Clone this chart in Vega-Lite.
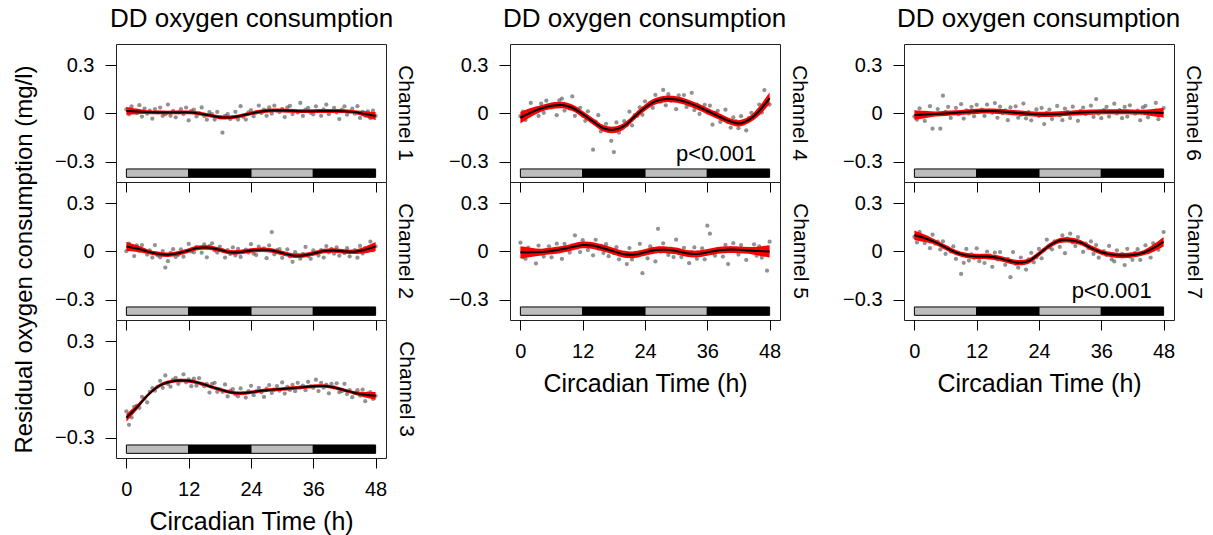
{
"$schema":"https://vega.github.io/schema/vega-lite/v6.json",
"background":"white",
"padding":{"left":12,"top":5,"right":0,"bottom":0},
"datasets":{
"ld":[{"t":0,"e":12,"p":"L"},{"t":12,"e":24,"p":"D"},{"t":24,"e":36,"p":"L"},{"t":36,"e":48,"p":"D"}],
"fit":[
{"c":1,"t":0,"v":0.015,"se":0.025},{"c":1,"t":2,"v":0.012,"se":0.018},{"c":1,"t":4,"v":0.008,"se":0.012},{"c":1,"t":6,"v":0.006,"se":0.012},{"c":1,"t":8,"v":0.005,"se":0.012},{"c":1,"t":10,"v":0.006,"se":0.012},{"c":1,"t":12,"v":0.006,"se":0.012},{"c":1,"t":14,"v":0,"se":0.012},{"c":1,"t":16,"v":-0.012,"se":0.012},{"c":1,"t":18,"v":-0.024,"se":0.012},{"c":1,"t":20,"v":-0.025,"se":0.012},{"c":1,"t":22,"v":-0.015,"se":0.012},{"c":1,"t":24,"v":0,"se":0.012},{"c":1,"t":26,"v":0.012,"se":0.012},{"c":1,"t":28,"v":0.018,"se":0.012},{"c":1,"t":30,"v":0.018,"se":0.012},{"c":1,"t":32,"v":0.016,"se":0.012},{"c":1,"t":34,"v":0.014,"se":0.012},{"c":1,"t":36,"v":0.014,"se":0.012},{"c":1,"t":38,"v":0.015,"se":0.012},{"c":1,"t":40,"v":0.015,"se":0.012},{"c":1,"t":42,"v":0.014,"se":0.012},{"c":1,"t":44,"v":0.008,"se":0.012},{"c":1,"t":46,"v":-0.004,"se":0.018},{"c":1,"t":48,"v":-0.016,"se":0.025},
{"c":2,"t":0,"v":0.031,"se":0.028},{"c":2,"t":2,"v":0.018,"se":0.021},{"c":2,"t":4,"v":0,"se":0.014},{"c":2,"t":6,"v":-0.015,"se":0.014},{"c":2,"t":8,"v":-0.021,"se":0.014},{"c":2,"t":10,"v":-0.012,"se":0.014},{"c":2,"t":12,"v":0.006,"se":0.014},{"c":2,"t":14,"v":0.022,"se":0.014},{"c":2,"t":16,"v":0.023,"se":0.014},{"c":2,"t":18,"v":0.01,"se":0.014},{"c":2,"t":20,"v":-0.006,"se":0.014},{"c":2,"t":22,"v":-0.004,"se":0.014},{"c":2,"t":24,"v":0.005,"se":0.014},{"c":2,"t":26,"v":0.01,"se":0.014},{"c":2,"t":28,"v":0.006,"se":0.014},{"c":2,"t":30,"v":-0.01,"se":0.014},{"c":2,"t":32,"v":-0.025,"se":0.014},{"c":2,"t":34,"v":-0.025,"se":0.014},{"c":2,"t":36,"v":-0.013,"se":0.014},{"c":2,"t":38,"v":0.002,"se":0.014},{"c":2,"t":40,"v":0.006,"se":0.014},{"c":2,"t":42,"v":0,"se":0.014},{"c":2,"t":44,"v":-0.002,"se":0.014},{"c":2,"t":46,"v":0.01,"se":0.021},{"c":2,"t":48,"v":0.031,"se":0.028},
{"c":3,"t":0,"v":-0.176,"se":0.024},{"c":3,"t":2,"v":-0.112,"se":0.017},{"c":3,"t":4,"v":-0.04,"se":0.011},{"c":3,"t":6,"v":0.016,"se":0.011},{"c":3,"t":8,"v":0.044,"se":0.011},{"c":3,"t":10,"v":0.055,"se":0.011},{"c":3,"t":12,"v":0.053,"se":0.011},{"c":3,"t":14,"v":0.04,"se":0.011},{"c":3,"t":16,"v":0.02,"se":0.011},{"c":3,"t":18,"v":0,"se":0.011},{"c":3,"t":20,"v":-0.018,"se":0.011},{"c":3,"t":22,"v":-0.024,"se":0.011},{"c":3,"t":24,"v":-0.018,"se":0.011},{"c":3,"t":26,"v":-0.008,"se":0.011},{"c":3,"t":28,"v":-0.002,"se":0.011},{"c":3,"t":30,"v":0.003,"se":0.011},{"c":3,"t":32,"v":0.008,"se":0.011},{"c":3,"t":34,"v":0.013,"se":0.011},{"c":3,"t":36,"v":0.02,"se":0.011},{"c":3,"t":38,"v":0.021,"se":0.011},{"c":3,"t":40,"v":0.012,"se":0.011},{"c":3,"t":42,"v":-0.005,"se":0.011},{"c":3,"t":44,"v":-0.022,"se":0.011},{"c":3,"t":46,"v":-0.033,"se":0.017},{"c":3,"t":48,"v":-0.04,"se":0.024},
{"c":4,"t":0,"v":-0.027,"se":0.036},{"c":4,"t":2,"v":0.005,"se":0.028},{"c":4,"t":4,"v":0.03,"se":0.02},{"c":4,"t":6,"v":0.047,"se":0.02},{"c":4,"t":8,"v":0.052,"se":0.02},{"c":4,"t":10,"v":0.035,"se":0.02},{"c":4,"t":12,"v":-0.005,"se":0.02},{"c":4,"t":14,"v":-0.05,"se":0.02},{"c":4,"t":16,"v":-0.092,"se":0.02},{"c":4,"t":18,"v":-0.102,"se":0.02},{"c":4,"t":20,"v":-0.078,"se":0.02},{"c":4,"t":22,"v":-0.02,"se":0.02},{"c":4,"t":24,"v":0.035,"se":0.02},{"c":4,"t":26,"v":0.075,"se":0.02},{"c":4,"t":28,"v":0.09,"se":0.02},{"c":4,"t":30,"v":0.086,"se":0.02},{"c":4,"t":32,"v":0.07,"se":0.02},{"c":4,"t":34,"v":0.045,"se":0.02},{"c":4,"t":36,"v":0.015,"se":0.02},{"c":4,"t":38,"v":-0.015,"se":0.02},{"c":4,"t":40,"v":-0.045,"se":0.02},{"c":4,"t":42,"v":-0.062,"se":0.02},{"c":4,"t":44,"v":-0.04,"se":0.02},{"c":4,"t":46,"v":0.015,"se":0.028},{"c":4,"t":48,"v":0.095,"se":0.036},
{"c":5,"t":0,"v":-0.006,"se":0.038},{"c":5,"t":2,"v":-0.006,"se":0.029},{"c":5,"t":4,"v":-0.004,"se":0.021},{"c":5,"t":6,"v":0.003,"se":0.021},{"c":5,"t":8,"v":0.013,"se":0.021},{"c":5,"t":10,"v":0.027,"se":0.021},{"c":5,"t":12,"v":0.04,"se":0.021},{"c":5,"t":14,"v":0.036,"se":0.021},{"c":5,"t":16,"v":0.02,"se":0.021},{"c":5,"t":18,"v":0,"se":0.021},{"c":5,"t":20,"v":-0.018,"se":0.021},{"c":5,"t":22,"v":-0.02,"se":0.021},{"c":5,"t":24,"v":-0.006,"se":0.021},{"c":5,"t":26,"v":0.008,"se":0.021},{"c":5,"t":28,"v":0.01,"se":0.021},{"c":5,"t":30,"v":0.003,"se":0.021},{"c":5,"t":32,"v":-0.012,"se":0.021},{"c":5,"t":34,"v":-0.016,"se":0.021},{"c":5,"t":36,"v":-0.006,"se":0.021},{"c":5,"t":38,"v":0.006,"se":0.021},{"c":5,"t":40,"v":0.011,"se":0.021},{"c":5,"t":42,"v":0.01,"se":0.021},{"c":5,"t":44,"v":0.006,"se":0.021},{"c":5,"t":46,"v":0.002,"se":0.029},{"c":5,"t":48,"v":0,"se":0.038},
{"c":6,"t":0,"v":-0.01,"se":0.03},{"c":6,"t":2,"v":-0.007,"se":0.023},{"c":6,"t":4,"v":-0.004,"se":0.016},{"c":6,"t":6,"v":0,"se":0.016},{"c":6,"t":8,"v":0.004,"se":0.016},{"c":6,"t":10,"v":0.009,"se":0.016},{"c":6,"t":12,"v":0.013,"se":0.016},{"c":6,"t":14,"v":0.015,"se":0.016},{"c":6,"t":16,"v":0.013,"se":0.016},{"c":6,"t":18,"v":0.008,"se":0.016},{"c":6,"t":20,"v":0.003,"se":0.016},{"c":6,"t":22,"v":-0.002,"se":0.016},{"c":6,"t":24,"v":-0.006,"se":0.016},{"c":6,"t":26,"v":-0.006,"se":0.016},{"c":6,"t":28,"v":-0.003,"se":0.016},{"c":6,"t":30,"v":0.001,"se":0.016},{"c":6,"t":32,"v":0.005,"se":0.016},{"c":6,"t":34,"v":0.008,"se":0.016},{"c":6,"t":36,"v":0.01,"se":0.016},{"c":6,"t":38,"v":0.01,"se":0.016},{"c":6,"t":40,"v":0.01,"se":0.016},{"c":6,"t":42,"v":0.009,"se":0.016},{"c":6,"t":44,"v":0.007,"se":0.016},{"c":6,"t":46,"v":0.005,"se":0.023},{"c":6,"t":48,"v":0.003,"se":0.03},
{"c":7,"t":0,"v":0.1,"se":0.03},{"c":7,"t":2,"v":0.082,"se":0.023},{"c":7,"t":4,"v":0.058,"se":0.016},{"c":7,"t":6,"v":0.025,"se":0.016},{"c":7,"t":8,"v":-0.007,"se":0.016},{"c":7,"t":10,"v":-0.025,"se":0.016},{"c":7,"t":12,"v":-0.031,"se":0.016},{"c":7,"t":14,"v":-0.032,"se":0.016},{"c":7,"t":16,"v":-0.04,"se":0.016},{"c":7,"t":18,"v":-0.057,"se":0.016},{"c":7,"t":20,"v":-0.07,"se":0.016},{"c":7,"t":22,"v":-0.06,"se":0.016},{"c":7,"t":24,"v":-0.015,"se":0.016},{"c":7,"t":26,"v":0.035,"se":0.016},{"c":7,"t":28,"v":0.068,"se":0.016},{"c":7,"t":30,"v":0.07,"se":0.016},{"c":7,"t":32,"v":0.055,"se":0.016},{"c":7,"t":34,"v":0.022,"se":0.016},{"c":7,"t":36,"v":-0.005,"se":0.016},{"c":7,"t":38,"v":-0.02,"se":0.016},{"c":7,"t":40,"v":-0.026,"se":0.016},{"c":7,"t":42,"v":-0.022,"se":0.016},{"c":7,"t":44,"v":-0.01,"se":0.016},{"c":7,"t":46,"v":0.02,"se":0.023},{"c":7,"t":48,"v":0.06,"se":0.03}
],
"pts":[
{"c":1,"t":0,"v":0.025},{"c":1,"t":0.5,"v":-0.006},{"c":1,"t":1,"v":0.044},{"c":1,"t":1.5,"v":0.013},{"c":1,"t":2,"v":0.002},{"c":1,"t":2.5,"v":0.051},{"c":1,"t":3,"v":-0.02},{"c":1,"t":3.5,"v":0.029},{"c":1,"t":4,"v":-0.002},{"c":1,"t":4.5,"v":0.018},{"c":1,"t":5,"v":-0.033},{"c":1,"t":5.5,"v":0.027},{"c":1,"t":6,"v":0.006},{"c":1,"t":6.5,"v":0.036},{"c":1,"t":7,"v":-0.015},{"c":1,"t":7.5,"v":-0.005},{"c":1,"t":8,"v":0.055},{"c":1,"t":8.5,"v":-0.015},{"c":1,"t":9,"v":0.016},{"c":1,"t":9.5,"v":-0.024},{"c":1,"t":10,"v":0.006},{"c":1,"t":10.5,"v":0.026},{"c":1,"t":11,"v":-0.004},{"c":1,"t":11.5,"v":0.036},{"c":1,"t":12,"v":-0.044},{"c":1,"t":12.5,"v":0.015},{"c":1,"t":13,"v":0.023},{"c":1,"t":13.5,"v":-0.019},{"c":1,"t":14,"v":0},{"c":1,"t":14.5,"v":0.037},{"c":1,"t":15,"v":-0.016},{"c":1,"t":15.5,"v":-0.039},{"c":1,"t":16,"v":0.008},{"c":1,"t":16.5,"v":-0.005},{"c":1,"t":17,"v":-0.038},{"c":1,"t":17.5,"v":0.009},{"c":1,"t":18,"v":-0.024},{"c":1,"t":18.5,"v":-0.12},{"c":1,"t":19,"v":-0.015},{"c":1,"t":19.5,"v":-0.005},{"c":1,"t":20,"v":-0.035},{"c":1,"t":20.5,"v":-0.023},{"c":1,"t":21,"v":0.01},{"c":1,"t":21.5,"v":-0.038},{"c":1,"t":22,"v":0.045},{"c":1,"t":22.5,"v":-0.021},{"c":1,"t":23,"v":-0.038},{"c":1,"t":23.5,"v":0.006},{"c":1,"t":24,"v":0.02},{"c":1,"t":24.5,"v":-0.017},{"c":1,"t":25,"v":0.006},{"c":1,"t":25.5,"v":0.049},{"c":1,"t":26,"v":0.002},{"c":1,"t":26.5,"v":0.024},{"c":1,"t":27,"v":-0.015},{"c":1,"t":27.5,"v":0.037},{"c":1,"t":28,"v":-0.002},{"c":1,"t":28.5,"v":0.048},{"c":1,"t":29,"v":0.018},{"c":1,"t":29.5,"v":0.008},{"c":1,"t":30,"v":0.028},{"c":1,"t":30.5,"v":-0.023},{"c":1,"t":31,"v":0.037},{"c":1,"t":31.5,"v":0.047},{"c":1,"t":32,"v":-0.004},{"c":1,"t":32.5,"v":0.016},{"c":1,"t":33,"v":0.005},{"c":1,"t":33.5,"v":0.065},{"c":1,"t":34,"v":-0.016},{"c":1,"t":34.5,"v":0.024},{"c":1,"t":35,"v":0.034},{"c":1,"t":35.5,"v":0.004},{"c":1,"t":36,"v":-0.006},{"c":1,"t":36.5,"v":0.044},{"c":1,"t":37,"v":0.015},{"c":1,"t":37.5,"v":-0.015},{"c":1,"t":38,"v":0.025},{"c":1,"t":38.5,"v":0.055},{"c":1,"t":39,"v":-0.005},{"c":1,"t":39.5,"v":0.015},{"c":1,"t":40,"v":0.035},{"c":1,"t":40.5,"v":0.005},{"c":1,"t":41,"v":-0.035},{"c":1,"t":41.5,"v":0.024},{"c":1,"t":42,"v":0.044},{"c":1,"t":42.5,"v":-0.008},{"c":1,"t":43,"v":0.011},{"c":1,"t":43.5,"v":0.03},{"c":1,"t":44,"v":-0.002},{"c":1,"t":44.5,"v":0.045},{"c":1,"t":45,"v":-0.028},{"c":1,"t":45.5,"v":0.009},{"c":1,"t":46,"v":-0.014},{"c":1,"t":46.5,"v":0.013},{"c":1,"t":47,"v":-0.03},{"c":1,"t":47.5,"v":0.017},{"c":1,"t":48,"v":-0.016},
{"c":2,"t":0,"v":0.001},{"c":2,"t":0.5,"v":0.048},{"c":2,"t":1,"v":0.035},{"c":2,"t":1.5,"v":-0.029},{"c":2,"t":2,"v":0.038},{"c":2,"t":2.5,"v":0.004},{"c":2,"t":3,"v":0.039},{"c":2,"t":3.5,"v":0.005},{"c":2,"t":4,"v":-0.02},{"c":2,"t":4.5,"v":0.006},{"c":2,"t":5,"v":-0.038},{"c":2,"t":5.5,"v":0.039},{"c":2,"t":6,"v":-0.025},{"c":2,"t":6.5,"v":-0.037},{"c":2,"t":7,"v":0.002},{"c":2,"t":7.5,"v":-0.1},{"c":2,"t":8,"v":-0.061},{"c":2,"t":8.5,"v":-0.009},{"c":2,"t":9,"v":0.014},{"c":2,"t":9.5,"v":-0.034},{"c":2,"t":10,"v":-0.022},{"c":2,"t":10.5,"v":0.013},{"c":2,"t":11,"v":-0.033},{"c":2,"t":11.5,"v":0.002},{"c":2,"t":12,"v":0.046},{"c":2,"t":12.5,"v":0},{"c":2,"t":13,"v":-0.006},{"c":2,"t":13.5,"v":0.028},{"c":2,"t":14,"v":0.022},{"c":2,"t":14.5,"v":-0.008},{"c":2,"t":15,"v":0.043},{"c":2,"t":15.5,"v":-0.037},{"c":2,"t":16,"v":0.033},{"c":2,"t":16.5,"v":0.05},{"c":2,"t":17,"v":0.007},{"c":2,"t":17.5,"v":-0.007},{"c":2,"t":18,"v":0.03},{"c":2,"t":18.5,"v":0.006},{"c":2,"t":19,"v":-0.038},{"c":2,"t":19.5,"v":0.008},{"c":2,"t":20,"v":-0.016},{"c":2,"t":20.5,"v":0.025},{"c":2,"t":21,"v":-0.025},{"c":2,"t":21.5,"v":0.016},{"c":2,"t":22,"v":-0.034},{"c":2,"t":22.5,"v":-0.002},{"c":2,"t":23,"v":0.011},{"c":2,"t":23.5,"v":-0.007},{"c":2,"t":24,"v":0.045},{"c":2,"t":24.5,"v":-0.014},{"c":2,"t":25,"v":-0.023},{"c":2,"t":25.5,"v":0.029},{"c":2,"t":26,"v":0.01},{"c":2,"t":26.5,"v":0.019},{"c":2,"t":27,"v":-0.042},{"c":2,"t":27.5,"v":0.037},{"c":2,"t":28,"v":0.12},{"c":2,"t":28.5,"v":-0.018},{"c":2,"t":29,"v":0.008},{"c":2,"t":29.5,"v":0.014},{"c":2,"t":30,"v":-0.04},{"c":2,"t":30.5,"v":-0.014},{"c":2,"t":31,"v":0.013},{"c":2,"t":31.5,"v":-0.031},{"c":2,"t":32,"v":-0.065},{"c":2,"t":32.5,"v":-0.005},{"c":2,"t":33,"v":-0.025},{"c":2,"t":33.5,"v":-0.045},{"c":2,"t":34,"v":-0.015},{"c":2,"t":34.5,"v":0.028},{"c":2,"t":35,"v":-0.029},{"c":2,"t":35.5,"v":-0.046},{"c":2,"t":36,"v":0.007},{"c":2,"t":36.5,"v":-0.009},{"c":2,"t":37,"v":-0.026},{"c":2,"t":37.5,"v":0.008},{"c":2,"t":38,"v":-0.038},{"c":2,"t":38.5,"v":0.033},{"c":2,"t":39,"v":-0.006},{"c":2,"t":39.5,"v":0.015},{"c":2,"t":40,"v":-0.014},{"c":2,"t":40.5,"v":0.025},{"c":2,"t":41,"v":-0.027},{"c":2,"t":41.5,"v":0.002},{"c":2,"t":42,"v":-0.01},{"c":2,"t":42.5,"v":0.02},{"c":2,"t":43,"v":-0.031},{"c":2,"t":43.5,"v":-0.002},{"c":2,"t":44,"v":0.008},{"c":2,"t":44.5,"v":-0.039},{"c":2,"t":45,"v":0.034},{"c":2,"t":45.5,"v":-0.013},{"c":2,"t":46,"v":0.02},{"c":2,"t":46.5,"v":0.005},{"c":2,"t":47,"v":0.061},{"c":2,"t":47.5,"v":0.006},{"c":2,"t":48,"v":0.031},
{"c":3,"t":0,"v":-0.136},{"c":3,"t":0.5,"v":-0.22},{"c":3,"t":1,"v":-0.174},{"c":3,"t":1.5,"v":-0.108},{"c":3,"t":2,"v":-0.102},{"c":3,"t":2.5,"v":-0.114},{"c":3,"t":3,"v":-0.046},{"c":3,"t":3.5,"v":-0.058},{"c":3,"t":4,"v":-0.08},{"c":3,"t":4.5,"v":-0.016},{"c":3,"t":5,"v":0.008},{"c":3,"t":5.5,"v":-0.008},{"c":3,"t":6,"v":0.016},{"c":3,"t":6.5,"v":0.053},{"c":3,"t":7,"v":0.01},{"c":3,"t":7.5,"v":0.087},{"c":3,"t":8,"v":0.034},{"c":3,"t":8.5,"v":0.017},{"c":3,"t":9,"v":0.06},{"c":3,"t":9.5,"v":0.072},{"c":3,"t":10,"v":0.035},{"c":3,"t":10.5,"v":0.055},{"c":3,"t":11,"v":0.094},{"c":3,"t":11.5,"v":0.044},{"c":3,"t":12,"v":0.063},{"c":3,"t":12.5,"v":0.02},{"c":3,"t":13,"v":0.067},{"c":3,"t":13.5,"v":0.023},{"c":3,"t":14,"v":0.07},{"c":3,"t":14.5,"v":0.035},{"c":3,"t":15,"v":0.02},{"c":3,"t":15.5,"v":0.035},{"c":3,"t":16,"v":-0.02},{"c":3,"t":16.5,"v":0.035},{"c":3,"t":17,"v":0.04},{"c":3,"t":17.5,"v":-0.015},{"c":3,"t":18,"v":0},{"c":3,"t":18.5,"v":-0.015},{"c":3,"t":19,"v":0.031},{"c":3,"t":19.5,"v":-0.044},{"c":3,"t":20,"v":-0.008},{"c":3,"t":20.5,"v":0.001},{"c":3,"t":21,"v":-0.031},{"c":3,"t":21.5,"v":-0.043},{"c":3,"t":22,"v":0.006},{"c":3,"t":22.5,"v":-0.023},{"c":3,"t":23,"v":-0.051},{"c":3,"t":23.5,"v":-0.01},{"c":3,"t":24,"v":0.022},{"c":3,"t":24.5,"v":-0.036},{"c":3,"t":25,"v":-0.013},{"c":3,"t":25.5,"v":0.01},{"c":3,"t":26,"v":-0.018},{"c":3,"t":26.5,"v":-0.047},{"c":3,"t":27,"v":0.005},{"c":3,"t":27.5,"v":0.027},{"c":3,"t":28,"v":-0.022},{"c":3,"t":28.5,"v":-0.001},{"c":3,"t":29,"v":0.021},{"c":3,"t":29.5,"v":-0.008},{"c":3,"t":30,"v":0.043},{"c":3,"t":30.5,"v":-0.026},{"c":3,"t":31,"v":0.016},{"c":3,"t":31.5,"v":-0.003},{"c":3,"t":32,"v":0.028},{"c":3,"t":32.5,"v":-0.011},{"c":3,"t":33,"v":0.041},{"c":3,"t":33.5,"v":0.012},{"c":3,"t":34,"v":0.023},{"c":3,"t":34.5,"v":-0.005},{"c":3,"t":35,"v":0.047},{"c":3,"t":35.5,"v":0.019},{"c":3,"t":36,"v":0.01},{"c":3,"t":36.5,"v":0.06},{"c":3,"t":37,"v":-0.01},{"c":3,"t":37.5,"v":0.041},{"c":3,"t":38,"v":0.011},{"c":3,"t":38.5,"v":0.029},{"c":3,"t":39,"v":-0.024},{"c":3,"t":39.5,"v":0.035},{"c":3,"t":40,"v":0.012},{"c":3,"t":40.5,"v":0.038},{"c":3,"t":41,"v":-0.017},{"c":3,"t":41.5,"v":-0.011},{"c":3,"t":42,"v":0.035},{"c":3,"t":42.5,"v":-0.029},{"c":3,"t":43,"v":-0.004},{"c":3,"t":43.5,"v":-0.048},{"c":3,"t":44,"v":-0.022},{"c":3,"t":44.5,"v":-0.005},{"c":3,"t":45,"v":-0.038},{"c":3,"t":45.5,"v":-0.001},{"c":3,"t":46,"v":-0.073},{"c":3,"t":46.5,"v":-0.025},{"c":3,"t":47,"v":-0.017},{"c":3,"t":47.5,"v":-0.059},{"c":3,"t":48,"v":-0.04},
{"c":4,"t":0,"v":-0.017},{"c":4,"t":0.5,"v":0.011},{"c":4,"t":1,"v":-0.041},{"c":4,"t":1.5,"v":-0.003},{"c":4,"t":2,"v":0.065},{"c":4,"t":2.5,"v":0.001},{"c":4,"t":3,"v":0.028},{"c":4,"t":3.5,"v":-0.016},{"c":4,"t":4,"v":0.06},{"c":4,"t":4.5,"v":0.004},{"c":4,"t":5,"v":0.079},{"c":4,"t":5.5,"v":0.043},{"c":4,"t":6,"v":0.037},{"c":4,"t":6.5,"v":0.058},{"c":4,"t":7,"v":-0.011},{"c":4,"t":7.5,"v":0.081},{"c":4,"t":8,"v":0.092},{"c":4,"t":8.5,"v":0.018},{"c":4,"t":9,"v":0.044},{"c":4,"t":9.5,"v":0.029},{"c":4,"t":10,"v":0.105},{"c":4,"t":10.5,"v":-0.015},{"c":4,"t":11,"v":0.025},{"c":4,"t":11.5,"v":0.035},{"c":4,"t":12,"v":-0.015},{"c":4,"t":12.5,"v":-0.046},{"c":4,"t":13,"v":0.013},{"c":4,"t":13.5,"v":-0.039},{"c":4,"t":14,"v":-0.225},{"c":4,"t":14.5,"v":-0.051},{"c":4,"t":15,"v":-0.011},{"c":4,"t":15.5,"v":-0.112},{"c":4,"t":16,"v":-0.092},{"c":4,"t":16.5,"v":-0.065},{"c":4,"t":17,"v":-0.107},{"c":4,"t":17.5,"v":-0.17},{"c":4,"t":18,"v":-0.24},{"c":4,"t":18.5,"v":-0.056},{"c":4,"t":19,"v":-0.12},{"c":4,"t":19.5,"v":-0.084},{"c":4,"t":20,"v":-0.048},{"c":4,"t":20.5,"v":-0.074},{"c":4,"t":21,"v":0.011},{"c":4,"t":21.5,"v":-0.075},{"c":4,"t":22,"v":-0.01},{"c":4,"t":22.5,"v":-0.016},{"c":4,"t":23,"v":0.038},{"c":4,"t":23.5,"v":-0.009},{"c":4,"t":24,"v":0.075},{"c":4,"t":24.5,"v":0.045},{"c":4,"t":25,"v":0.065},{"c":4,"t":25.5,"v":0.035},{"c":4,"t":26,"v":0.115},{"c":4,"t":26.5,"v":0.079},{"c":4,"t":27,"v":0.073},{"c":4,"t":27.5,"v":0.146},{"c":4,"t":28,"v":0.05},{"c":4,"t":28.5,"v":0.119},{"c":4,"t":29,"v":0.078},{"c":4,"t":29.5,"v":0.097},{"c":4,"t":30,"v":0.026},{"c":4,"t":30.5,"v":0.112},{"c":4,"t":31,"v":0.078},{"c":4,"t":31.5,"v":0.114},{"c":4,"t":32,"v":0.04},{"c":4,"t":32.5,"v":0.054},{"c":4,"t":33,"v":0.128},{"c":4,"t":33.5,"v":0.021},{"c":4,"t":34,"v":0.055},{"c":4,"t":34.5,"v":-0.003},{"c":4,"t":35,"v":0.03},{"c":4,"t":35.5,"v":0.053},{"c":4,"t":36,"v":0.005},{"c":4,"t":36.5,"v":0.048},{"c":4,"t":37,"v":-0.07},{"c":4,"t":37.5,"v":0.003},{"c":4,"t":38,"v":0.015},{"c":4,"t":38.5,"v":-0.053},{"c":4,"t":39,"v":-0.03},{"c":4,"t":39.5,"v":0.023},{"c":4,"t":40,"v":-0.055},{"c":4,"t":40.5,"v":-0.089},{"c":4,"t":41,"v":-0.024},{"c":4,"t":41.5,"v":-0.048},{"c":4,"t":42,"v":-0.092},{"c":4,"t":42.5,"v":-0.017},{"c":4,"t":43,"v":-0.051},{"c":4,"t":43.5,"v":-0.106},{"c":4,"t":44,"v":-0.03},{"c":4,"t":44.5,"v":0.004},{"c":4,"t":45,"v":-0.023},{"c":4,"t":45.5,"v":0.002},{"c":4,"t":46,"v":0.055},{"c":4,"t":46.5,"v":0.005},{"c":4,"t":47,"v":0.145},{"c":4,"t":47.5,"v":0.065},{"c":4,"t":48,"v":0.055},
{"c":5,"t":0,"v":0.054},{"c":5,"t":0.5,"v":-0.036},{"c":5,"t":1,"v":-0.046},{"c":5,"t":1.5,"v":0.024},{"c":5,"t":2,"v":-0.006},{"c":5,"t":2.5,"v":0.005},{"c":5,"t":3,"v":-0.075},{"c":5,"t":3.5,"v":0.036},{"c":5,"t":4,"v":-0.014},{"c":5,"t":4.5,"v":-0.032},{"c":5,"t":5,"v":0.01},{"c":5,"t":5.5,"v":0.032},{"c":5,"t":6,"v":-0.037},{"c":5,"t":6.5,"v":0.006},{"c":5,"t":7,"v":0.048},{"c":5,"t":7.5,"v":0.001},{"c":5,"t":8,"v":-0.047},{"c":5,"t":8.5,"v":0.047},{"c":5,"t":9,"v":0.02},{"c":5,"t":9.5,"v":-0.007},{"c":5,"t":10,"v":0.037},{"c":5,"t":10.5,"v":0.1},{"c":5,"t":11,"v":0.024},{"c":5,"t":11.5,"v":-0.004},{"c":5,"t":12,"v":0.07},{"c":5,"t":12.5,"v":0.039},{"c":5,"t":13,"v":0.008},{"c":5,"t":13.5,"v":0.047},{"c":5,"t":14,"v":-0.024},{"c":5,"t":14.5,"v":0.072},{"c":5,"t":15,"v":0.018},{"c":5,"t":15.5,"v":0.034},{"c":5,"t":16,"v":-0.01},{"c":5,"t":16.5,"v":0.045},{"c":5,"t":17,"v":-0.03},{"c":5,"t":17.5,"v":0.005},{"c":5,"t":18,"v":-0.01},{"c":5,"t":18.5,"v":0.026},{"c":5,"t":19,"v":-0.049},{"c":5,"t":19.5,"v":-0.014},{"c":5,"t":20,"v":-0.008},{"c":5,"t":20.5,"v":-0.079},{"c":5,"t":21,"v":0.021},{"c":5,"t":21.5,"v":-0.05},{"c":5,"t":22,"v":-0.01},{"c":5,"t":22.5,"v":-0.027},{"c":5,"t":23,"v":0.047},{"c":5,"t":23.5,"v":-0.135},{"c":5,"t":24,"v":-0.006},{"c":5,"t":24.5,"v":-0.043},{"c":5,"t":25,"v":0.031},{"c":5,"t":25.5,"v":0.015},{"c":5,"t":26,"v":-0.062},{"c":5,"t":26.5,"v":0.14},{"c":5,"t":27,"v":-0.001},{"c":5,"t":27.5,"v":0.05},{"c":5,"t":28,"v":0.01},{"c":5,"t":28.5,"v":-0.022},{"c":5,"t":29,"v":0.017},{"c":5,"t":29.5,"v":-0.035},{"c":5,"t":30,"v":0.073},{"c":5,"t":30.5,"v":-0.011},{"c":5,"t":31,"v":-0.035},{"c":5,"t":31.5,"v":0.022},{"c":5,"t":32,"v":-0.012},{"c":5,"t":32.5,"v":-0.073},{"c":5,"t":33,"v":-0.004},{"c":5,"t":33.5,"v":0.025},{"c":5,"t":34,"v":-0.046},{"c":5,"t":34.5,"v":-0.024},{"c":5,"t":35,"v":0.019},{"c":5,"t":35.5,"v":-0.049},{"c":5,"t":36,"v":0.16},{"c":5,"t":36.5,"v":0.11},{"c":5,"t":37,"v":-0.01},{"c":5,"t":37.5,"v":-0.027},{"c":5,"t":38,"v":0.016},{"c":5,"t":38.5,"v":0.008},{"c":5,"t":39,"v":-0.032},{"c":5,"t":39.5,"v":0.04},{"c":5,"t":40,"v":-0.079},{"c":5,"t":40.5,"v":0.021},{"c":5,"t":41,"v":0.051},{"c":5,"t":41.5,"v":0.001},{"c":5,"t":42,"v":-0.02},{"c":5,"t":42.5,"v":0.039},{"c":5,"t":43,"v":0.008},{"c":5,"t":43.5,"v":-0.053},{"c":5,"t":44,"v":0.016},{"c":5,"t":44.5,"v":-0.005},{"c":5,"t":45,"v":0.044},{"c":5,"t":45.5,"v":-0.027},{"c":5,"t":46,"v":0.032},{"c":5,"t":46.5,"v":-0.039},{"c":5,"t":47,"v":0.001},{"c":5,"t":47.5,"v":-0.12},{"c":5,"t":48,"v":0.06},
{"c":6,"t":0,"v":-0.02},{"c":6,"t":0.5,"v":-0.039},{"c":6,"t":1,"v":0.032},{"c":6,"t":1.5,"v":-0.008},{"c":6,"t":2,"v":-0.047},{"c":6,"t":2.5,"v":0.004},{"c":6,"t":3,"v":0.045},{"c":6,"t":3.5,"v":-0.095},{"c":6,"t":4,"v":-0.004},{"c":6,"t":4.5,"v":0.027},{"c":6,"t":5,"v":-0.095},{"c":6,"t":5.5,"v":0.11},{"c":6,"t":6,"v":0.01},{"c":6,"t":6.5,"v":0.041},{"c":6,"t":7,"v":-0.028},{"c":6,"t":7.5,"v":0.003},{"c":6,"t":8,"v":0.034},{"c":6,"t":8.5,"v":-0.005},{"c":6,"t":9,"v":0.057},{"c":6,"t":9.5,"v":-0.032},{"c":6,"t":10,"v":0.019},{"c":6,"t":10.5,"v":0},{"c":6,"t":11,"v":0.041},{"c":6,"t":11.5,"v":-0.018},{"c":6,"t":12,"v":0.053},{"c":6,"t":12.5,"v":0.014},{"c":6,"t":13,"v":0.024},{"c":6,"t":13.5,"v":-0.016},{"c":6,"t":14,"v":0.055},{"c":6,"t":14.5,"v":0.015},{"c":6,"t":15,"v":0.004},{"c":6,"t":15.5,"v":0.064},{"c":6,"t":16,"v":-0.027},{"c":6,"t":16.5,"v":0.042},{"c":6,"t":17,"v":0.001},{"c":6,"t":17.5,"v":0.019},{"c":6,"t":18,"v":-0.042},{"c":6,"t":18.5,"v":0.037},{"c":6,"t":19,"v":0.006},{"c":6,"t":19.5,"v":0.044},{"c":6,"t":20,"v":-0.027},{"c":6,"t":20.5,"v":-0.008},{"c":6,"t":21,"v":0.061},{"c":6,"t":21.5,"v":-0.031},{"c":6,"t":22,"v":0.008},{"c":6,"t":22.5,"v":-0.043},{"c":6,"t":23,"v":-0.004},{"c":6,"t":23.5,"v":0.025},{"c":6,"t":24,"v":-0.016},{"c":6,"t":24.5,"v":0.034},{"c":6,"t":25,"v":-0.066},{"c":6,"t":25.5,"v":0.004},{"c":6,"t":26,"v":0.024},{"c":6,"t":26.5,"v":-0.035},{"c":6,"t":27,"v":-0.005},{"c":6,"t":27.5,"v":0.046},{"c":6,"t":28,"v":-0.013},{"c":6,"t":28.5,"v":-0.042},{"c":6,"t":29,"v":0.029},{"c":6,"t":29.5,"v":0.01},{"c":6,"t":30,"v":-0.029},{"c":6,"t":30.5,"v":0.042},{"c":6,"t":31,"v":0.003},{"c":6,"t":31.5,"v":-0.046},{"c":6,"t":32,"v":0.015},{"c":6,"t":32.5,"v":0.036},{"c":6,"t":33,"v":-0.004},{"c":6,"t":33.5,"v":0.008},{"c":6,"t":34,"v":0.048},{"c":6,"t":34.5,"v":-0.022},{"c":6,"t":35,"v":0.089},{"c":6,"t":35.5,"v":-0.001},{"c":6,"t":36,"v":-0.03},{"c":6,"t":36.5,"v":0.02},{"c":6,"t":37,"v":0.04},{"c":6,"t":37.5,"v":-0.02},{"c":6,"t":38,"v":0.01},{"c":6,"t":38.5,"v":0.06},{"c":6,"t":39,"v":0},{"c":6,"t":39.5,"v":0.02},{"c":6,"t":40,"v":-0.03},{"c":6,"t":40.5,"v":0.04},{"c":6,"t":41,"v":-0.02},{"c":6,"t":41.5,"v":0.05},{"c":6,"t":42,"v":0.009},{"c":6,"t":42.5,"v":-0.002},{"c":6,"t":43,"v":0.018},{"c":6,"t":43.5,"v":-0.043},{"c":6,"t":44,"v":0.037},{"c":6,"t":44.5,"v":0.047},{"c":6,"t":45,"v":-0.024},{"c":6,"t":45.5,"v":0.006},{"c":6,"t":46,"v":-0.005},{"c":6,"t":46.5,"v":0.065},{"c":6,"t":47,"v":-0.036},{"c":6,"t":47.5,"v":0.014},{"c":6,"t":48,"v":0.033},
{"c":7,"t":0,"v":0.09},{"c":7,"t":0.5,"v":0.056},{"c":7,"t":1,"v":0.121},{"c":7,"t":1.5,"v":0.087},{"c":7,"t":2,"v":0.052},{"c":7,"t":2.5,"v":0.086},{"c":7,"t":3,"v":0.02},{"c":7,"t":3.5,"v":0.104},{"c":7,"t":4,"v":0.048},{"c":7,"t":4.5,"v":0.06},{"c":7,"t":5,"v":0.012},{"c":7,"t":5.5,"v":0.063},{"c":7,"t":6,"v":-0.015},{"c":7,"t":6.5,"v":0.017},{"c":7,"t":7,"v":-0.001},{"c":7,"t":7.5,"v":0.031},{"c":7,"t":8,"v":-0.047},{"c":7,"t":8.5,"v":-0.012},{"c":7,"t":9,"v":-0.14},{"c":7,"t":9.5,"v":-0.071},{"c":7,"t":10,"v":0.015},{"c":7,"t":10.5,"v":-0.057},{"c":7,"t":11,"v":-0.018},{"c":7,"t":11.5,"v":-0.04},{"c":7,"t":12,"v":0.019},{"c":7,"t":12.5,"v":-0.061},{"c":7,"t":13,"v":-0.032},{"c":7,"t":13.5,"v":-0.072},{"c":7,"t":14,"v":-0.002},{"c":7,"t":14.5,"v":-0.024},{"c":7,"t":15,"v":-0.096},{"c":7,"t":15.5,"v":-0.008},{"c":7,"t":16,"v":-0.05},{"c":7,"t":16.5,"v":-0.004},{"c":7,"t":17,"v":-0.049},{"c":7,"t":17.5,"v":-0.083},{"c":7,"t":18,"v":-0.047},{"c":7,"t":18.5,"v":-0.16},{"c":7,"t":19,"v":-0.004},{"c":7,"t":19.5,"v":-0.077},{"c":7,"t":20,"v":-0.1},{"c":7,"t":20.5,"v":-0.038},{"c":7,"t":21,"v":-0.065},{"c":7,"t":21.5,"v":-0.113},{"c":7,"t":22,"v":-0.05},{"c":7,"t":22.5,"v":-0.009},{"c":7,"t":23,"v":-0.068},{"c":7,"t":23.5,"v":-0.036},{"c":7,"t":24,"v":0.015},{"c":7,"t":24.5,"v":-0.043},{"c":7,"t":25,"v":0.01},{"c":7,"t":25.5,"v":0.073},{"c":7,"t":26,"v":0.025},{"c":7,"t":26.5,"v":0.013},{"c":7,"t":27,"v":0.062},{"c":7,"t":27.5,"v":0.06},{"c":7,"t":28,"v":0.028},{"c":7,"t":28.5,"v":0.099},{"c":7,"t":29,"v":-0.011},{"c":7,"t":29.5,"v":0.08},{"c":7,"t":30,"v":0.11},{"c":7,"t":30.5,"v":0.056},{"c":7,"t":31,"v":0.033},{"c":7,"t":31.5,"v":0.089},{"c":7,"t":32,"v":0.055},{"c":7,"t":32.5,"v":-0.003},{"c":7,"t":33,"v":0.049},{"c":7,"t":33.5,"v":0.021},{"c":7,"t":34,"v":0.062},{"c":7,"t":34.5,"v":-0.015},{"c":7,"t":35,"v":0.039},{"c":7,"t":35.5,"v":-0.039},{"c":7,"t":36,"v":-0.005},{"c":7,"t":36.5,"v":0.001},{"c":7,"t":37,"v":-0.023},{"c":7,"t":37.5,"v":0.034},{"c":7,"t":38,"v":-0.05},{"c":7,"t":38.5,"v":-0.062},{"c":7,"t":39,"v":0.007},{"c":7,"t":39.5,"v":-0.025},{"c":7,"t":40,"v":-0.016},{"c":7,"t":40.5,"v":-0.085},{"c":7,"t":41,"v":0.016},{"c":7,"t":41.5,"v":-0.033},{"c":7,"t":42,"v":-0.052},{"c":7,"t":42.5,"v":-0.009},{"c":7,"t":43,"v":0.014},{"c":7,"t":43.5,"v":-0.053},{"c":7,"t":44,"v":-0.01},{"c":7,"t":44.5,"v":0.038},{"c":7,"t":45,"v":-0.005},{"c":7,"t":45.5,"v":-0.038},{"c":7,"t":46,"v":0.05},{"c":7,"t":46.5,"v":0.03},{"c":7,"t":47,"v":0.01},{"c":7,"t":47.5,"v":0.06},{"c":7,"t":48,"v":0.12}
]
},
"spacing":30,
"hconcat":[
{"title":{"text":"DD oxygen consumption","fontSize":26,"offset":12,"anchor":"middle","dx":37},"spacing":0,"bounds":"flush","vconcat":[
{"width":270,"height":138,"title":{"text":"Channel 1","orient":"right","fontSize":21,"offset":9,"anchor":"middle"},"layer":[
{"data":{"name":"pts"},"transform":[{"filter":"datum.c==1"}],"mark":{"type":"circle","size":18,"color":"#4a4a4a","opacity":0.6},"encoding":{"x":{"field":"t","type":"quantitative","scale":{"domain":[-2,50],"nice":false,"zero":false},"axis":{"values":[0,12,24,36,48],"labels":false,"title":null}},"y":{"field":"v","type":"quantitative","scale":{"domain":[-0.426,0.431],"nice":false,"zero":false},"axis":{"values":[-0.3,-0.15,0,0.15,0.3],"labelExpr":"datum.value==0?'0':abs(datum.value)<0.2?'':format(datum.value,'.1f')","title":null}}}},
{"data":{"name":"fit"},"transform":[{"filter":"datum.c==1"}],"mark":{"type":"errorband","color":"#ff0000","band":{"opacity":1},"interpolate":"catmull-rom"},"encoding":{"x":{"field":"t","type":"quantitative","title":null},"y":{"field":"v","type":"quantitative","title":null},"yError":{"field":"se"}}},
{"data":{"name":"fit"},"transform":[{"filter":"datum.c==1"}],"mark":{"type":"line","color":"#000","strokeWidth":2,"interpolate":"catmull-rom"},"encoding":{"x":{"field":"t","type":"quantitative","title":null},"y":{"field":"v","type":"quantitative","title":null}}},
{"data":{"name":"ld"},"mark":{"type":"rect","stroke":"#000","strokeWidth":1},"encoding":{"x":{"field":"t","type":"quantitative","title":null},"x2":{"field":"e"},"y":{"datum":-0.345},"y2":{"datum":-0.397},"color":{"field":"p","type":"nominal","scale":{"domain":["L","D"],"range":["#bdbdbd","#000000"]},"legend":null}}}
]},
{"width":270,"height":138,"title":{"text":"Channel 2","orient":"right","fontSize":21,"offset":9,"anchor":"middle"},"layer":[
{"data":{"name":"pts"},"transform":[{"filter":"datum.c==2"}],"mark":{"type":"circle","size":18,"color":"#4a4a4a","opacity":0.6},"encoding":{"x":{"field":"t","type":"quantitative","scale":{"domain":[-2,50],"nice":false,"zero":false},"axis":{"values":[0,12,24,36,48],"labels":false,"title":null}},"y":{"field":"v","type":"quantitative","title":"Residual oxygen consumption (mg/l)","scale":{"domain":[-0.426,0.431],"nice":false,"zero":false},"axis":{"values":[-0.3,-0.15,0,0.15,0.3],"labelExpr":"datum.value==0?'0':abs(datum.value)<0.2?'':format(datum.value,'.1f')","title":"Residual oxygen consumption (mg/l)","titleFontSize":24,"titlePadding":18,"titleY":77}}}},
{"data":{"name":"fit"},"transform":[{"filter":"datum.c==2"}],"mark":{"type":"errorband","color":"#ff0000","band":{"opacity":1},"interpolate":"catmull-rom"},"encoding":{"x":{"field":"t","type":"quantitative","title":null},"y":{"field":"v","type":"quantitative","title":"Residual oxygen consumption (mg/l)"},"yError":{"field":"se"}}},
{"data":{"name":"fit"},"transform":[{"filter":"datum.c==2"}],"mark":{"type":"line","color":"#000","strokeWidth":2,"interpolate":"catmull-rom"},"encoding":{"x":{"field":"t","type":"quantitative","title":null},"y":{"field":"v","type":"quantitative","title":"Residual oxygen consumption (mg/l)"}}},
{"data":{"name":"ld"},"mark":{"type":"rect","stroke":"#000","strokeWidth":1},"encoding":{"x":{"field":"t","type":"quantitative","title":null},"x2":{"field":"e"},"y":{"datum":-0.345},"y2":{"datum":-0.397},"color":{"field":"p","type":"nominal","scale":{"domain":["L","D"],"range":["#bdbdbd","#000000"]},"legend":null}}}
]},
{"width":270,"height":138,"title":{"text":"Channel 3","orient":"right","fontSize":21,"offset":9,"anchor":"middle"},"layer":[
{"data":{"name":"pts"},"transform":[{"filter":"datum.c==3"}],"mark":{"type":"circle","size":18,"color":"#4a4a4a","opacity":0.6},"encoding":{"x":{"field":"t","type":"quantitative","scale":{"domain":[-2,50],"nice":false,"zero":false},"axis":{"values":[0,12,24,36,48],"labels":true,"title":"Circadian Time (h)"}},"y":{"field":"v","type":"quantitative","scale":{"domain":[-0.426,0.431],"nice":false,"zero":false},"axis":{"values":[-0.3,-0.15,0,0.15,0.3],"labelExpr":"datum.value==0?'0':abs(datum.value)<0.2?'':format(datum.value,'.1f')","title":null}}}},
{"data":{"name":"fit"},"transform":[{"filter":"datum.c==3"}],"mark":{"type":"errorband","color":"#ff0000","band":{"opacity":1},"interpolate":"catmull-rom"},"encoding":{"x":{"field":"t","type":"quantitative","title":"Circadian Time (h)"},"y":{"field":"v","type":"quantitative","title":null},"yError":{"field":"se"}}},
{"data":{"name":"fit"},"transform":[{"filter":"datum.c==3"}],"mark":{"type":"line","color":"#000","strokeWidth":2,"interpolate":"catmull-rom"},"encoding":{"x":{"field":"t","type":"quantitative","title":"Circadian Time (h)"},"y":{"field":"v","type":"quantitative","title":null}}},
{"data":{"name":"ld"},"mark":{"type":"rect","stroke":"#000","strokeWidth":1},"encoding":{"x":{"field":"t","type":"quantitative","title":"Circadian Time (h)"},"x2":{"field":"e"},"y":{"datum":-0.345},"y2":{"datum":-0.397},"color":{"field":"p","type":"nominal","scale":{"domain":["L","D"],"range":["#bdbdbd","#000000"]},"legend":null}}}
]}
]},
{"title":{"text":"DD oxygen consumption","fontSize":26,"offset":12,"anchor":"middle","dx":15},"spacing":0,"bounds":"flush","vconcat":[
{"width":270,"height":138,"title":{"text":"Channel 4","orient":"right","fontSize":21,"offset":9,"anchor":"middle"},"layer":[
{"data":{"name":"pts"},"transform":[{"filter":"datum.c==4"}],"mark":{"type":"circle","size":18,"color":"#4a4a4a","opacity":0.6},"encoding":{"x":{"field":"t","type":"quantitative","scale":{"domain":[-2,50],"nice":false,"zero":false},"axis":{"values":[0,12,24,36,48],"labels":false,"title":null}},"y":{"field":"v","type":"quantitative","scale":{"domain":[-0.426,0.431],"nice":false,"zero":false},"axis":{"values":[-0.3,-0.15,0,0.15,0.3],"labelExpr":"datum.value==0?'0':abs(datum.value)<0.2?'':format(datum.value,'.1f')","title":null}}}},
{"data":{"name":"fit"},"transform":[{"filter":"datum.c==4"}],"mark":{"type":"errorband","color":"#ff0000","band":{"opacity":1},"interpolate":"catmull-rom"},"encoding":{"x":{"field":"t","type":"quantitative","title":null},"y":{"field":"v","type":"quantitative","title":null},"yError":{"field":"se"}}},
{"data":{"name":"fit"},"transform":[{"filter":"datum.c==4"}],"mark":{"type":"line","color":"#000","strokeWidth":2,"interpolate":"catmull-rom"},"encoding":{"x":{"field":"t","type":"quantitative","title":null},"y":{"field":"v","type":"quantitative","title":null}}},
{"data":{"name":"ld"},"mark":{"type":"rect","stroke":"#000","strokeWidth":1},"encoding":{"x":{"field":"t","type":"quantitative","title":null},"x2":{"field":"e"},"y":{"datum":-0.345},"y2":{"datum":-0.397},"color":{"field":"p","type":"nominal","scale":{"domain":["L","D"],"range":["#bdbdbd","#000000"]},"legend":null}}},
{"data":{"values":[{"label":"p<0.001"}]},"mark":{"type":"text","fontSize":22,"align":"center","baseline":"alphabetic","color":"#000"},"encoding":{"text":{"field":"label"},"x":{"datum":37.7},"y":{"datum":-0.295}}}
]},
{"width":270,"height":138,"title":{"text":"Channel 5","orient":"right","fontSize":21,"offset":9,"anchor":"middle"},"layer":[
{"data":{"name":"pts"},"transform":[{"filter":"datum.c==5"}],"mark":{"type":"circle","size":18,"color":"#4a4a4a","opacity":0.6},"encoding":{"x":{"field":"t","type":"quantitative","scale":{"domain":[-2,50],"nice":false,"zero":false},"axis":{"values":[0,12,24,36,48],"labels":true,"title":"Circadian Time (h)"}},"y":{"field":"v","type":"quantitative","scale":{"domain":[-0.426,0.431],"nice":false,"zero":false},"axis":{"values":[-0.3,-0.15,0,0.15,0.3],"labelExpr":"datum.value==0?'0':abs(datum.value)<0.2?'':format(datum.value,'.1f')","title":null}}}},
{"data":{"name":"fit"},"transform":[{"filter":"datum.c==5"}],"mark":{"type":"errorband","color":"#ff0000","band":{"opacity":1},"interpolate":"catmull-rom"},"encoding":{"x":{"field":"t","type":"quantitative","title":"Circadian Time (h)"},"y":{"field":"v","type":"quantitative","title":null},"yError":{"field":"se"}}},
{"data":{"name":"fit"},"transform":[{"filter":"datum.c==5"}],"mark":{"type":"line","color":"#000","strokeWidth":2,"interpolate":"catmull-rom"},"encoding":{"x":{"field":"t","type":"quantitative","title":"Circadian Time (h)"},"y":{"field":"v","type":"quantitative","title":null}}},
{"data":{"name":"ld"},"mark":{"type":"rect","stroke":"#000","strokeWidth":1},"encoding":{"x":{"field":"t","type":"quantitative","title":"Circadian Time (h)"},"x2":{"field":"e"},"y":{"datum":-0.345},"y2":{"datum":-0.397},"color":{"field":"p","type":"nominal","scale":{"domain":["L","D"],"range":["#bdbdbd","#000000"]},"legend":null}}}
]}
]},
{"title":{"text":"DD oxygen consumption","fontSize":26,"offset":12,"anchor":"middle","dx":15},"spacing":0,"bounds":"flush","vconcat":[
{"width":270,"height":138,"title":{"text":"Channel 6","orient":"right","fontSize":21,"offset":9,"anchor":"middle"},"layer":[
{"data":{"name":"pts"},"transform":[{"filter":"datum.c==6"}],"mark":{"type":"circle","size":18,"color":"#4a4a4a","opacity":0.6},"encoding":{"x":{"field":"t","type":"quantitative","scale":{"domain":[-2,50],"nice":false,"zero":false},"axis":{"values":[0,12,24,36,48],"labels":false,"title":null}},"y":{"field":"v","type":"quantitative","scale":{"domain":[-0.426,0.431],"nice":false,"zero":false},"axis":{"values":[-0.3,-0.15,0,0.15,0.3],"labelExpr":"datum.value==0?'0':abs(datum.value)<0.2?'':format(datum.value,'.1f')","title":null}}}},
{"data":{"name":"fit"},"transform":[{"filter":"datum.c==6"}],"mark":{"type":"errorband","color":"#ff0000","band":{"opacity":1},"interpolate":"catmull-rom"},"encoding":{"x":{"field":"t","type":"quantitative","title":null},"y":{"field":"v","type":"quantitative","title":null},"yError":{"field":"se"}}},
{"data":{"name":"fit"},"transform":[{"filter":"datum.c==6"}],"mark":{"type":"line","color":"#000","strokeWidth":2,"interpolate":"catmull-rom"},"encoding":{"x":{"field":"t","type":"quantitative","title":null},"y":{"field":"v","type":"quantitative","title":null}}},
{"data":{"name":"ld"},"mark":{"type":"rect","stroke":"#000","strokeWidth":1},"encoding":{"x":{"field":"t","type":"quantitative","title":null},"x2":{"field":"e"},"y":{"datum":-0.345},"y2":{"datum":-0.397},"color":{"field":"p","type":"nominal","scale":{"domain":["L","D"],"range":["#bdbdbd","#000000"]},"legend":null}}}
]},
{"width":270,"height":138,"title":{"text":"Channel 7","orient":"right","fontSize":21,"offset":9,"anchor":"middle"},"layer":[
{"data":{"name":"pts"},"transform":[{"filter":"datum.c==7"}],"mark":{"type":"circle","size":18,"color":"#4a4a4a","opacity":0.6},"encoding":{"x":{"field":"t","type":"quantitative","scale":{"domain":[-2,50],"nice":false,"zero":false},"axis":{"values":[0,12,24,36,48],"labels":true,"title":"Circadian Time (h)"}},"y":{"field":"v","type":"quantitative","scale":{"domain":[-0.426,0.431],"nice":false,"zero":false},"axis":{"values":[-0.3,-0.15,0,0.15,0.3],"labelExpr":"datum.value==0?'0':abs(datum.value)<0.2?'':format(datum.value,'.1f')","title":null}}}},
{"data":{"name":"fit"},"transform":[{"filter":"datum.c==7"}],"mark":{"type":"errorband","color":"#ff0000","band":{"opacity":1},"interpolate":"catmull-rom"},"encoding":{"x":{"field":"t","type":"quantitative","title":"Circadian Time (h)"},"y":{"field":"v","type":"quantitative","title":null},"yError":{"field":"se"}}},
{"data":{"name":"fit"},"transform":[{"filter":"datum.c==7"}],"mark":{"type":"line","color":"#000","strokeWidth":2,"interpolate":"catmull-rom"},"encoding":{"x":{"field":"t","type":"quantitative","title":"Circadian Time (h)"},"y":{"field":"v","type":"quantitative","title":null}}},
{"data":{"name":"ld"},"mark":{"type":"rect","stroke":"#000","strokeWidth":1},"encoding":{"x":{"field":"t","type":"quantitative","title":"Circadian Time (h)"},"x2":{"field":"e"},"y":{"datum":-0.345},"y2":{"datum":-0.397},"color":{"field":"p","type":"nominal","scale":{"domain":["L","D"],"range":["#bdbdbd","#000000"]},"legend":null}}},
{"data":{"values":[{"label":"p<0.001"}]},"mark":{"type":"text","fontSize":22,"align":"center","baseline":"alphabetic","color":"#000"},"encoding":{"text":{"field":"label"},"x":{"datum":38},"y":{"datum":-0.29}}}
]}
]}
],
"config":{
"font":"Liberation Sans",
"view":{"stroke":"#222","strokeWidth":1},
"axis":{"grid":false,"domain":false,"tickColor":"#000","labelColor":"#000","titleColor":"#000","labelFontSize":20,"titleFontSize":25,"titleFontWeight":"normal","labelFont":"Liberation Sans","titleFont":"Liberation Sans"},
"axisX":{"tickSize":10,"labelPadding":11,"titlePadding":10},
"axisY":{"tickSize":11,"labelPadding":11},
"title":{"fontWeight":"normal","font":"Liberation Sans","color":"#000"}
}
}
